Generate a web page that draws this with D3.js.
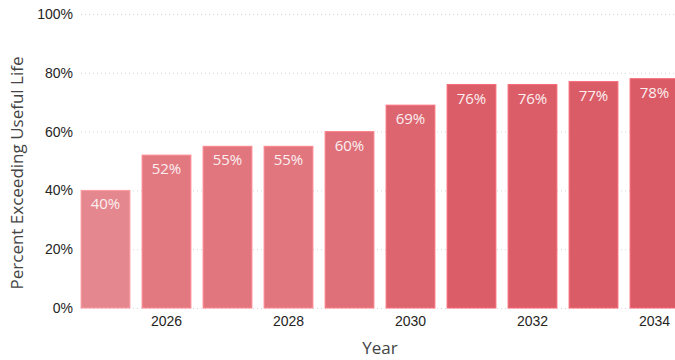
<!DOCTYPE html>
<html>
<head>
<meta charset="utf-8">
<script src="https://cdn.jsdelivr.net/npm/d3@7"></script>
<style>
  html, body { margin: 0; padding: 0; background: #fff; }
  svg { display: block; font-family: "Segoe UI", "Open Sans", "Noto Sans", sans-serif; }
</style>
</head>
<body>
<svg id="chart" width="675" height="360"></svg>
<script>
// Share of assets past their useful life, by year
const years = [2025, 2026, 2027, 2028, 2029, 2030, 2031, 2032, 2033, 2034];
const percents = [40, 52, 55, 55, 60, 69, 76, 76, 77, 78];
const yTicks = [0, 20, 40, 60, 80, 100];
const xTickYears = [2026, 2028, 2030, 2032, 2034];

const svg = d3.select("#chart");
const W = 675, H = 360;
const plotTop = 14, plotBottom = 308;

const x = d3.scaleBand()
  .domain(years)
  .range([75, 685])
  .paddingInner(0.2)
  .paddingOuter(0.1);

const y = d3.scaleLinear().domain([0, 100]).range([plotBottom, plotTop]);

const color = d3.scaleLinear()
  .domain([40, 78])
  .range(["#e5878e", "#da5b66"]);

// y axis labels
const yAxis = d3.axisLeft(y)
  .tickValues(yTicks)
  .tickFormat(d => d + "%")
  .tickSize(0)
  .tickPadding(8);

const gy = svg.append("g").attr("transform", "translate(81,0)").call(yAxis);
gy.select(".domain").remove();
gy.selectAll("text")
  .attr("fill", "#252423")
  .style("font-size", "14px");

// dotted gridlines
svg.append("g").selectAll("line")
  .data(yTicks)
  .join("line")
  .attr("x1", 81).attr("x2", W)
  .attr("y1", d => y(d) + 0.5).attr("y2", d => y(d) + 0.5)
  .attr("stroke", "#d6d6d6")
  .attr("stroke-width", 1)
  .attr("stroke-dasharray", "1,3");

// bars
svg.append("g").selectAll("rect")
  .data(years)
  .join("rect")
  .attr("x", d => x(d))
  .attr("width", x.bandwidth())
  .attr("y", (d, i) => y(percents[i]))
  .attr("height", (d, i) => y(0) - y(percents[i]))
  .attr("fill", (d, i) => color(percents[i]))
  .attr("stroke", (d, i) => d3.color(color(percents[i])).brighter(0.35))
  .attr("stroke-width", 1);

// value labels inside the bars
svg.append("g").selectAll("text")
  .data(years)
  .join("text")
  .attr("x", d => x(d) + x.bandwidth() / 2)
  .attr("y", (d, i) => y(percents[i]) + 19)
  .attr("text-anchor", "middle")
  .attr("fill", "#fbeff0")
  .style("font-size", "15px")
  .text((d, i) => percents[i] + "%");

// x axis
const xAxis = d3.axisBottom(x)
  .tickValues(xTickYears)
  .tickSize(0)
  .tickPadding(8);
const gx = svg.append("g").attr("transform", `translate(0,${plotBottom})`).call(xAxis);
gx.select(".domain").remove();
gx.selectAll("text")
  .attr("fill", "#252423")
  .style("font-size", "14px");

// axis titles
svg.append("text")
  .attr("x", 380).attr("y", 354)
  .attr("text-anchor", "middle")
  .attr("fill", "#444")
  .style("font-size", "17px")
  .text("Year");

svg.append("text")
  .attr("transform", "translate(23,173) rotate(-90)")
  .attr("text-anchor", "middle")
  .attr("fill", "#444")
  .style("font-size", "17px")
  .text("Percent Exceeding Useful Life");
</script>
</body>
</html>
